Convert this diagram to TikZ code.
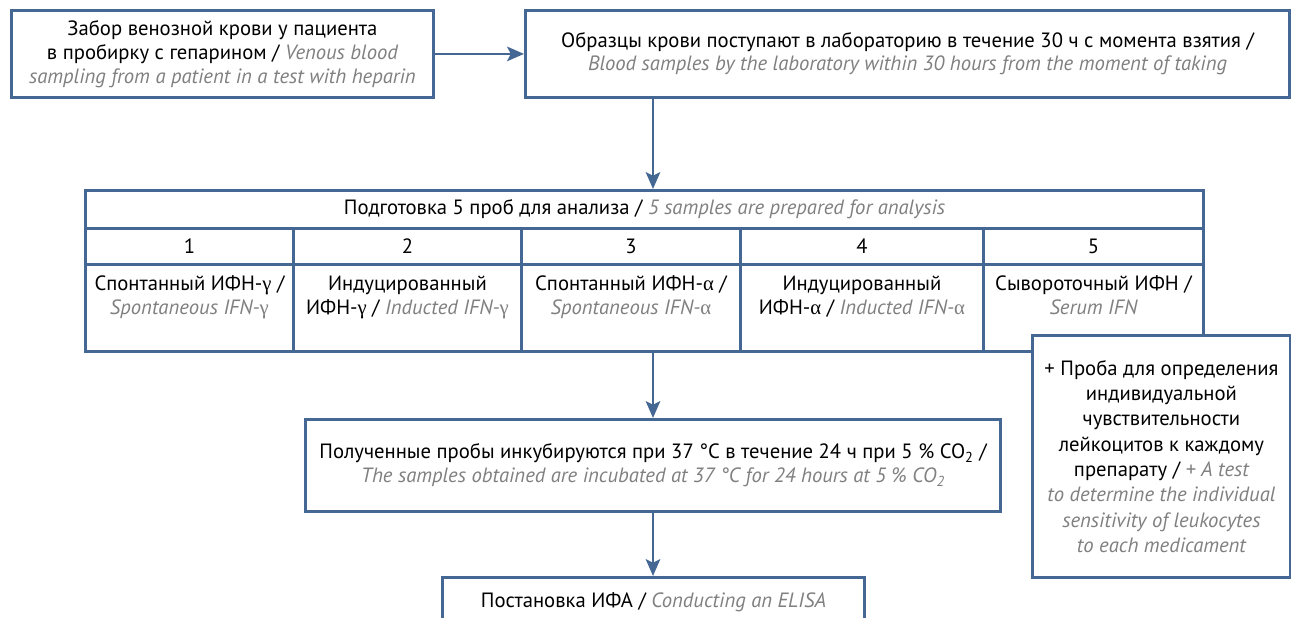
\documentclass[tikz,border=0pt]{standalone}
\usepackage{fontspec}
\setmainfont{PT Sans}
\newfontfamily\grkfont{Liberation Serif}
\usetikzlibrary{
  arrows.meta,
  positioning
}
\usepackage{xcolor}
\definecolor{cframe}{RGB}{68,103,148}
\definecolor{ctrans}{RGB}{128,128,128}
\newcommand{\engl}[1]{{\itshape\color{ctrans}#1}}
\newcommand{\ggam}{{\grkfont\upshape γ}}
\newcommand{\galp}{{\grkfont\upshape α}}
\tikzset{
  stepbox/.style={
    rectangle, draw=cframe, fill=white, line width=2pt,
    anchor=north west, inner sep=0pt, align=center,
    font=\fontsize{14.7}{17}\selectfont
  },
  celltext/.style={
    inner sep=0pt, align=center,
    font=\fontsize{14.7}{17}\selectfont
  },
  arr/.style={-{Stealth[length=0.42cm, width=0.36cm, inset=0.09cm]},
    line width=2pt, color=cframe}
}

\begin{document}
\begin{tikzpicture}[x=0.025cm, y=-0.025cm]
    \clip (0,0) rectangle (1291,618);

    %% ---- top row ----------------------------------------------------
    \node[stepbox, minimum width=10.55cm, minimum height=2.175cm]
      (sampling) at (10,9)
      {Забор венозной крови у пациента\\
       в пробирку с гепарином / \engl{Venous blood}\\
       \engl{sampling from a patient in a test with heparin}};
    \node[stepbox, minimum width=19.1cm, minimum height=2.175cm,
          font=\fontsize{14.7}{16}\selectfont]
      (delivery) at (524,9)
      {Образцы крови поступают в лабораторию в течение 30 ч с момента взятия /\\
       \engl{Blood samples by the laboratory within 30 hours from the moment of taking}};

    %% ---- table of samples -------------------------------------------
    \node[stepbox, minimum width=27.95cm, minimum height=0.95cm]
      (prep) at (84,189)
      {Подготовка 5 проб для анализа / \engl{5 samples are prepared for analysis}};

    \node[stepbox, minimum width=5.2cm,   minimum height=0.9cm] (n1) at (84,227)  {1};
    \node[stepbox, minimum width=5.7cm,   minimum height=0.9cm] (n2) at (292,227) {2};
    \node[stepbox, minimum width=5.475cm, minimum height=0.9cm] (n3) at (520,227) {3};
    \node[stepbox, minimum width=6.075cm, minimum height=0.9cm] (n4) at (739,227) {4};
    \node[stepbox, minimum width=5.5cm,   minimum height=0.9cm] (n5) at (982,227) {5};

    \node[stepbox, minimum width=5.2cm,   minimum height=2.175cm] (c1) at (84,263)  {};
    \node[stepbox, minimum width=5.7cm,   minimum height=2.175cm] (c2) at (292,263) {};
    \node[stepbox, minimum width=5.475cm, minimum height=2.175cm] (c3) at (520,263) {};
    \node[stepbox, minimum width=6.075cm, minimum height=2.175cm] (c4) at (739,263) {};
    \node[stepbox, minimum width=5.5cm,   minimum height=2.175cm] (c5) at (982,263) {};

    \node[celltext, below=0.32cm of c1.north] (t1)
      {Спонтанный ИФН-\ggam{} /\\ \engl{Spontaneous IFN-\ggam}};
    \node[celltext, below=0.32cm of c2.north] (t2)
      {Индуцированный\\ ИФН-\ggam{} / \engl{Inducted IFN-\ggam}};
    \node[celltext, below=0.32cm of c3.north] (t3)
      {Спонтанный ИФН-\galp{} /\\ \engl{Spontaneous IFN-\galp}};
    \node[celltext, below=0.32cm of c4.north] (t4)
      {Индуцированный\\ ИФН-\galp{} / \engl{Inducted IFN-\galp}};
    \node[celltext, below=0.32cm of c5.north] (t5)
      {Сывороточный ИФН /\\ \engl{Serum IFN}};

    %% ---- extra test -------------------------------------------------
    \node[stepbox, minimum width=6.45cm, minimum height=6.05cm,
          font=\fontsize{14.7}{18}\selectfont]
      (extra) at (1031,334)
      {+ Проба для определения\\ индивидуальной\\ чувствительности\\
       лейкоцитов к каждому\\ препарату / \engl{+ A test}\\
       \engl{to determine the individual}\\ \engl{sensitivity of leukocytes}\\
       \engl{to each medicament}};

    %% ---- incubation and ELISA ---------------------------------------
    \node[stepbox, minimum width=17.375cm, minimum height=2.3cm]
      (incub) at (304,418)
      {Полученные пробы инкубируются при 37 °C в течение 24 ч при 5 \% CO\textsubscript{2} /\\
       \engl{The samples obtained are incubated at 37 °C for 24 hours at 5 \% CO\textsubscript{2}}};
    \node[stepbox, minimum width=10.55cm, minimum height=2cm]
      (elisa) at (441,576) {};
    \node[celltext, below=0.42cm of elisa.north] (elisatext)
      {Постановка ИФА / \engl{Conducting an ELISA}};

    %% ---- arrows -----------------------------------------------------
    \draw[arr] (sampling.east) -- (delivery.west);
    \draw[arr] (delivery.south -| incub.north) -- (prep.north -| incub.north);
    \draw[arr] (c3.south -| incub.north) -- (incub.north);
    \draw[arr] (incub.south) -- (incub.south |- elisa.north);

  \end{tikzpicture}
\end{document}
